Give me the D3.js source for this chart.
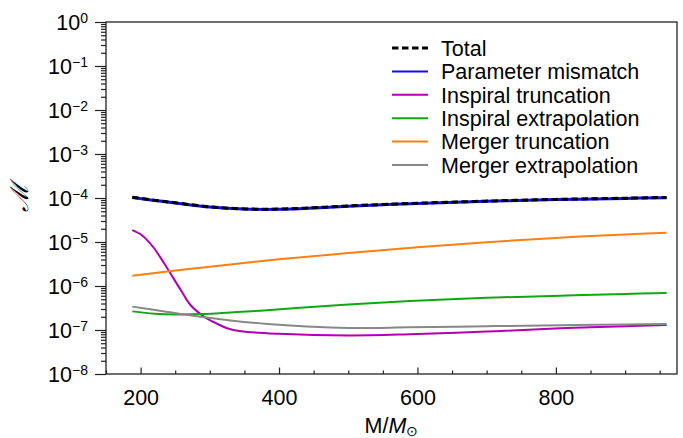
<!DOCTYPE html>
<html>
<head>
<meta charset="utf-8">
<script src="https://cdn.jsdelivr.net/npm/d3@7"></script>
<style>
  body { margin: 0; background: #fff; }
  svg { display: block; font-family: "Liberation Sans", Arial, sans-serif; }
</style>
</head>
<body>
<script>
// data
const mTotal   = [188, 220, 250, 300, 350, 400, 450, 500, 600, 700, 800, 900, 960];
const totalVal = [1.04e-4, 8.9e-5, 7.8e-5, 6.3e-5, 5.65e-5, 5.6e-5, 6.0e-5, 6.6e-5, 7.6e-5, 8.5e-5, 9.3e-5, 9.9e-5, 1.03e-4];
const paramVal = totalVal.map(v => v * 0.99);

const mInsTrunc   = [188, 200, 207, 219, 234, 243, 258, 272, 294, 310, 325, 345, 400, 500, 589, 700, 806, 900, 960];
const insTruncVal = [1.87e-5, 1.5e-5, 1.21e-5, 7.4e-6, 3.28e-6, 1.95e-6, 8.1e-7, 3.7e-7, 1.9e-7, 1.4e-7, 1.1e-7, 9.4e-8, 8.2e-8, 7.5e-8, 8.0e-8, 9.2e-8, 1.1e-7, 1.22e-7, 1.3e-7];

const mCommon     = [188, 220, 250, 290, 330, 373, 430, 500, 589, 700, 806, 900, 960];
const insExtraVal = [2.65e-7, 2.35e-7, 2.25e-7, 2.3e-7, 2.5e-7, 2.75e-7, 3.2e-7, 3.8e-7, 4.56e-7, 5.4e-7, 6.0e-7, 6.6e-7, 6.9e-7];

const mMerger       = [188, 250, 300, 400, 500, 600, 700, 800, 900, 960];
const mergTruncVal  = [1.72e-6, 2.24e-6, 2.75e-6, 4.03e-6, 5.6e-6, 7.64e-6, 9.93e-6, 1.24e-5, 1.49e-5, 1.63e-5];

const mMergExtra    = [188, 230, 286, 330, 383, 440, 500, 589, 700, 806, 900, 960];
const mergExtraVal  = [3.4e-7, 2.7e-7, 2.0e-7, 1.65e-7, 1.37e-7, 1.2e-7, 1.11e-7, 1.15e-7, 1.22e-7, 1.28e-7, 1.33e-7, 1.37e-7];

const xTicks = [200, 400, 600, 800];
const yExps = [0, -1, -2, -3, -4, -5, -6, -7, -8];

const width = 683, height = 438;
const plotL = 106, plotR = 677, plotT = 22, plotB = 374;

const x = d3.scaleLinear().domain([150, 975]).range([plotL, plotR]);
const y = d3.scaleLog().domain([1e-8, 1]).range([plotB, plotT]);

const svg = d3.select("body").append("svg")
    .attr("width", width)
    .attr("height", height);

// curves
const series = [
  {name: "Parameter mismatch",    m: mTotal,     v: paramVal,     color: "#1010f0", w: 3},
  {name: "Inspiral truncation",   m: mInsTrunc,  v: insTruncVal,  color: "#b000b0", w: 2},
  {name: "Inspiral extrapolation",m: mCommon,    v: insExtraVal,  color: "#10a810", w: 2},
  {name: "Merger truncation",     m: mMerger,    v: mergTruncVal, color: "#ff8010", w: 2},
  {name: "Merger extrapolation",  m: mMergExtra, v: mergExtraVal, color: "#888888", w: 2}
];

const line = d3.line()
    .x(d => x(d[0]))
    .y(d => y(d[1]))
    .curve(d3.curveCatmullRom.alpha(0.5));

series.slice(1).concat(series.slice(0, 1)).forEach(s => {
  svg.append("path")
    .attr("d", line(s.m.map((m, i) => [m, s.v[i]])))
    .attr("fill", "none")
    .attr("stroke", s.color)
    .attr("stroke-width", s.w);
});

svg.append("path")
    .attr("d", line(mTotal.map((m, i) => [m, totalVal[i]])))
    .attr("fill", "none")
    .attr("stroke", "#000")
    .attr("stroke-width", 3)
    .attr("stroke-dasharray", "6.5,3.5");

// frame
svg.append("rect")
    .attr("x", plotL).attr("y", plotT)
    .attr("width", plotR - plotL).attr("height", plotB - plotT)
    .attr("fill", "none").attr("stroke", "#222").attr("stroke-width", 1.3);

// x axis - ticks point inward
const xMinor = d3.range(150, 976, 50).filter(v => !xTicks.includes(v));
svg.append("g")
    .attr("transform", "translate(0," + plotB + ")")
    .call(d3.axisBottom(x).tickValues(xMinor).tickSize(-3.5).tickFormat(""));
const gx = svg.append("g")
    .attr("transform", "translate(0," + plotB + ")")
    .call(d3.axisBottom(x).tickValues(xTicks).tickSize(-6.5).tickPadding(16));
gx.selectAll("text").attr("font-size", 21.5).attr("font-family", "Liberation Sans, Arial, sans-serif").attr("fill", "#000");

// y axis - ticks point outward
const yMinor = [];
yExps.slice(0, -1).forEach(e => {
  for (let k = 2; k <= 9; k++) yMinor.push(k * Math.pow(10, e - 1));
});
svg.append("g")
    .attr("transform", "translate(" + plotL + ",0)")
    .call(d3.axisLeft(y).tickValues(yMinor).tickSize(5).tickFormat(""));
const gy = svg.append("g")
    .attr("transform", "translate(" + plotL + ",0)")
    .call(d3.axisLeft(y).tickValues(yExps.map(e => Math.pow(10, e))).tickSize(11).tickPadding(6).tickFormat(""));

svg.selectAll(".domain").remove();
svg.selectAll(".tick line").attr("stroke", "#222").attr("stroke-width", 1.2);

gy.selectAll(".tick").each(function(d) {
  const e = Math.round(Math.log10(d));
  const t = d3.select(this).append("text")
    .attr("x", -18).attr("dy", "0.36em")
    .attr("text-anchor", "end")
    .attr("fill", "#000")
    .attr("font-size", 21.5)
    .attr("font-family", "Liberation Sans, Arial, sans-serif");
  t.append("tspan").text("10");
  t.append("tspan").attr("dy", "-0.55em").attr("font-size", 14)
    .text(e === 0 ? "0" : "\u2212" + Math.abs(e));
});

// axis titles
svg.append("text")
    .attr("transform", "translate(28,197) rotate(-90)")
    .attr("text-anchor", "middle")
    .attr("font-size", 25)
    .attr("font-family", "DejaVu Serif, serif")
    .attr("font-style", "italic")
    .text("\u2133");

const xt = svg.append("text")
    .attr("x", (plotL + plotR) / 2).attr("y", 433)
    .attr("text-anchor", "middle")
    .attr("font-size", 21.5);
xt.append("tspan").text("M/");
xt.append("tspan").attr("font-style", "italic").text("M");
xt.append("tspan").attr("dy", 3).attr("font-size", 14).text("\u2299");

// legend
const legend = [{name: "Total", color: "#000", w: 3, dash: "6.5,3.5"}]
  .concat(series.map(s => ({name: s.name, color: s.color, w: 2})));
const lg = svg.append("g");
legend.forEach((d, i) => {
  const yy = 48 + i * 23.4;
  lg.append("line")
    .attr("x1", 392).attr("x2", 428).attr("y1", yy).attr("y2", yy)
    .attr("stroke", d.color).attr("stroke-width", d.w)
    .attr("stroke-dasharray", d.dash || null);
  lg.append("text")
    .attr("x", 441).attr("y", yy).attr("dy", "0.36em")
    .attr("font-size", 21.5)
    .text(d.name);
});
</script>
</body>
</html>
